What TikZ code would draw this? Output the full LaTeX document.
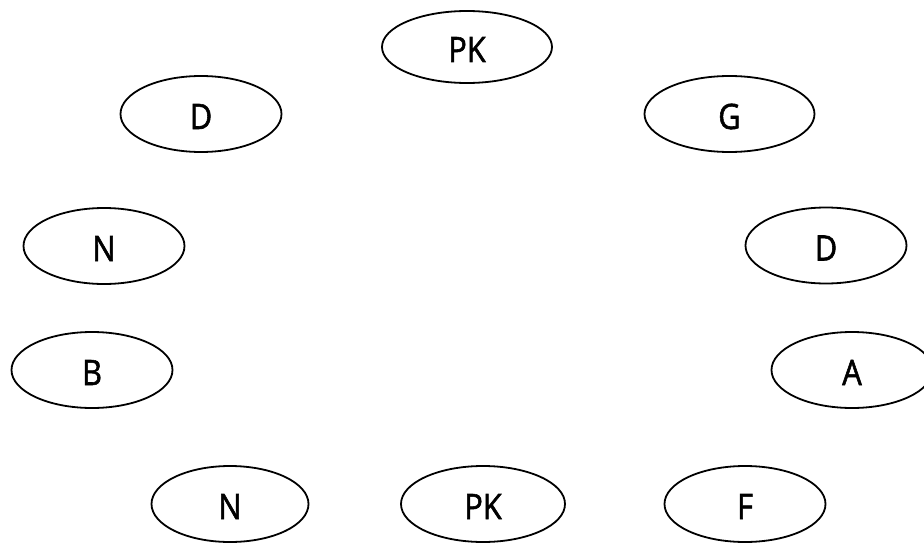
\documentclass[tikz,border=0pt]{standalone}
\usepackage{fontspec}
\setmainfont[FakeBold=1.6,FakeStretch=0.88]{Open Sans}
\usetikzlibrary{shapes.geometric}
\begin{document}
\begin{tikzpicture}[x=1pt,y=-1pt,
  oval/.style={ellipse,draw=black,line width=1.8pt,minimum width=161pt,minimum height=76pt,inner sep=0pt,text height=30pt,text depth=0pt,font=\fontsize{35}{38}\selectfont},
  wide/.style={minimum width=170pt}]
\useasboundingbox (0,0) rectangle (924,543);
\node[oval,wide,minimum height=72pt] (pk1) at (467,47) {PK};
\node[oval] (d1) at (201,114) {D};
\node[oval,wide] (g) at (729.5,114) {G};
\node[oval] (n1) at (104,246) {N};
\node[oval] (d2) at (826,245.5) {D};
\node[oval] (b) at (92,370) {B};
\node[oval] (a) at (852,370) {A};
\node[oval,minimum width=157pt] (n2) at (230,504) {N};
\node[oval,minimum width=164pt] (pk2) at (483,504) {PK};
\node[oval] (f) at (745,504) {F};
\end{tikzpicture}
\end{document}
